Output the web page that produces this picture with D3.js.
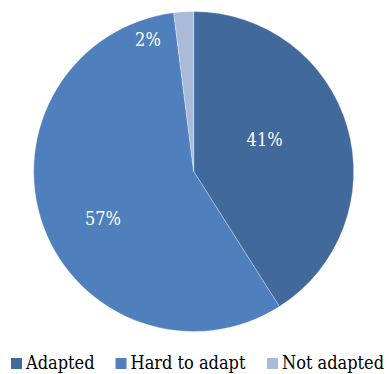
<!DOCTYPE html>
<html>
<head>
<meta charset="utf-8">
<script src="https://cdn.jsdelivr.net/npm/d3@7"></script>
<style>
  html, body { margin: 0; padding: 0; background: #fff; }
  svg { display: block; }
  svg text { font-family: "DejaVu Serif Condensed", "DejaVu Serif", serif; font-stretch: condensed; }
</style>
</head>
<body>
<svg id="chart" width="389" height="374"></svg>
<script>
// Share of respondents by adaptation status
const categories = ["Adapted", "Hard to adapt", "Not adapted"];
const shares = [41, 57, 2];
const labels = ["41%", "57%", "2%"];

const colors = ["#41699c", "#4f80bd", "#a9bbd9"];

const W = 389, H = 374;
const cx = 193.7, cy = 171.5, R = 160;

const svg = d3.select("#chart");

const pie = d3.pie().sort(null).value(d => d.value);
const arcs = pie(categories.map((c, i) => ({ name: c, value: shares[i], label: labels[i] })));
const arc = d3.arc().innerRadius(0).outerRadius(R);

const color = d3.scaleOrdinal().domain(categories).range(colors);

const g = svg.append("g").attr("transform", `translate(${cx},${cy})`);

g.selectAll("path.slice")
  .data(arcs)
  .join("path")
  .attr("class", "slice")
  .attr("d", arc)
  .attr("fill", d => color(d.data.name))
  .attr("stroke", "#ffffff")
  .attr("stroke-opacity", 0.6)
  .attr("stroke-width", 0.5);

// Data labels: placed along each slice's mid-angle, nudged like a best-fit layout
const labelPlacement = [
  { radius: 0.485, shift: -7.8 },
  { radius: 0.64, shift: -7.8 },
  { radius: 0.87, shift: -15.6 }
];
function labelAngle(d, i) {
  return (d.startAngle + d.endAngle) / 2 + labelPlacement[i].shift * Math.PI / 180;
}
g.selectAll("text.pct")
  .data(arcs)
  .join("text")
  .attr("class", "pct")
  .attr("x", (d, i) => Math.sin(labelAngle(d, i)) * R * labelPlacement[i].radius)
  .attr("y", (d, i) => -Math.cos(labelAngle(d, i)) * R * labelPlacement[i].radius)
  .attr("dy", "0.35em")
  .attr("text-anchor", "middle")
  .attr("font-size", 18)
  .attr("fill", "#ffffff")
  .text(d => d.data.label);

// Legend along the bottom
const legend = svg.append("g");
const sw = 11, gapText = 4, gapItem = 21;
let x = 0;
const items = legend.selectAll("g.item")
  .data(categories)
  .join("g")
  .attr("class", "item");
items.append("rect")
  .attr("y", -11)
  .attr("width", sw)
  .attr("height", sw)
  .attr("fill", d => color(d));
items.append("text")
  .attr("x", sw + gapText)
  .attr("font-size", 18)
  .attr("fill", "#000")
  .text(d => d);
items.each(function () {
  const w = this.getBBox().width;
  d3.select(this).attr("transform", `translate(${x},0)`);
  x += w + gapItem;
});
const total = x - gapItem;
legend.attr("transform", `translate(${(W - total) / 2 + 3},369)`);
</script>
</body>
</html>
